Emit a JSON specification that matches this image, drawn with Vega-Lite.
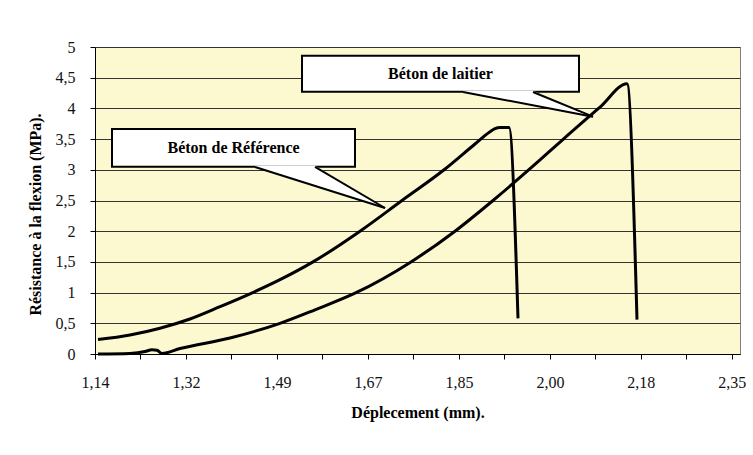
{
  "$schema": "https://vega.github.io/schema/vega-lite/v6.json",
  "width": 645,
  "height": 307,
  "autosize": {"type": "none"},
  "padding": {"left": 95, "top": 47, "right": 13, "bottom": 101},
  "background": "white",
  "config": {
    "view": {"fill": "#FCF8D0", "stroke": "#808080", "strokeWidth": 1},
    "font": "Liberation Serif"
  },
  "datasets": {
    "curves": [
      {"serie": "Béton de Référence", "i": 1, "x": 1.1457, "y": 0.235},
      {"serie": "Béton de Référence", "i": 2, "x": 1.2065, "y": 0.31},
      {"serie": "Béton de Référence", "i": 3, "x": 1.2635, "y": 0.42},
      {"serie": "Béton de Référence", "i": 4, "x": 1.3205, "y": 0.57},
      {"serie": "Béton de Référence", "i": 5, "x": 1.3775, "y": 0.77},
      {"serie": "Béton de Référence", "i": 6, "x": 1.4345, "y": 0.98},
      {"serie": "Béton de Référence", "i": 7, "x": 1.4915, "y": 1.21},
      {"serie": "Béton de Référence", "i": 8, "x": 1.5542, "y": 1.50},
      {"serie": "Béton de Référence", "i": 9, "x": 1.6435, "y": 2.00},
      {"serie": "Béton de Référence", "i": 10, "x": 1.7233, "y": 2.50},
      {"serie": "Béton de Référence", "i": 11, "x": 1.8033, "y": 3.00},
      {"serie": "Béton de Référence", "i": 12, "x": 1.8620, "y": 3.42},
      {"serie": "Béton de Référence", "i": 13, "x": 1.8905, "y": 3.62},
      {"serie": "Béton de Référence", "i": 14, "x": 1.9000, "y": 3.67},
      {"serie": "Béton de Référence", "i": 15, "x": 1.9095, "y": 3.69},
      {"serie": "Béton de Référence", "i": 16, "x": 1.9266, "y": 3.69},
      {"serie": "Béton de Référence", "i": 17, "x": 1.9437, "y": 0.58},
      {"serie": "Béton de laitier", "i": 1, "x": 1.1457, "y": 0.0},
      {"serie": "Béton de laitier", "i": 2, "x": 1.2065, "y": 0.01},
      {"serie": "Béton de laitier", "i": 3, "x": 1.2350, "y": 0.04},
      {"serie": "Béton de laitier", "i": 4, "x": 1.2483, "y": 0.07},
      {"serie": "Béton de laitier", "i": 5, "x": 1.2578, "y": 0.06},
      {"serie": "Béton de laitier", "i": 6, "x": 1.2673, "y": 0.01},
      {"serie": "Béton de laitier", "i": 7, "x": 1.3015, "y": 0.09},
      {"serie": "Béton de laitier", "i": 8, "x": 1.3965, "y": 0.26},
      {"serie": "Béton de laitier", "i": 9, "x": 1.4915, "y": 0.50},
      {"serie": "Béton de laitier", "i": 10, "x": 1.5580, "y": 0.72},
      {"serie": "Béton de laitier", "i": 11, "x": 1.6340, "y": 0.99},
      {"serie": "Béton de laitier", "i": 12, "x": 1.7404, "y": 1.50},
      {"serie": "Béton de laitier", "i": 13, "x": 1.8240, "y": 2.00},
      {"serie": "Béton de laitier", "i": 14, "x": 1.8962, "y": 2.50},
      {"serie": "Béton de laitier", "i": 15, "x": 1.9855, "y": 3.16},
      {"serie": "Béton de laitier", "i": 16, "x": 2.0273, "y": 3.48},
      {"serie": "Béton de laitier", "i": 17, "x": 2.0995, "y": 4.02},
      {"serie": "Béton de laitier", "i": 18, "x": 2.1508, "y": 4.40},
      {"serie": "Béton de laitier", "i": 19, "x": 2.1698, "y": 0.56}
    ],
    "boxes": [
      {"label": "Béton de Référence", "x": 1.1723, "x2": 1.634, "y": 3.664, "y2": 3.050, "tx": 1.4032, "ty": 3.355},
      {"label": "Béton de laitier", "x": 1.5333, "x2": 2.0596, "y": 4.858, "y2": 4.272, "tx": 1.7965, "ty": 4.560}
    ],
    "pointers": [
      {"c": "ref", "x": 1.444, "y": 3.066, "y2": 3.046},
      {"c": "ref", "x": 1.558, "y": 3.066, "y2": 2.738},
      {"c": "ref", "x": 1.691, "y": 2.378, "y2": 2.378},
      {"c": "lait", "x": 1.8392, "y": 4.287, "y2": 4.267},
      {"c": "lait", "x": 1.9722, "y": 4.287, "y2": 4.0505},
      {"c": "lait", "x": 2.0862, "y": 3.865, "y2": 3.865}
    ],
    "edges": [
      {"x": 1.444, "y": 3.046, "x2": 1.691, "y2": 2.378},
      {"x": 1.558, "y": 3.046, "x2": 1.691, "y2": 2.378},
      {"x": 1.8392, "y": 4.267, "x2": 2.0862, "y2": 3.865},
      {"x": 1.9722, "y": 4.267, "x2": 2.0862, "y2": 3.865}
    ]
  },
  "encoding": {
    "x": {
      "field": "x",
      "type": "quantitative",
      "scale": {"domain": [1.14, 2.3655], "nice": false, "zero": false},
      "axis": {
        "values": [1.14, 1.226429, 1.312857, 1.399286, 1.485714, 1.572143, 1.658571, 1.745, 1.831429, 1.917857, 2.004286, 2.090714, 2.177143, 2.263571, 2.35],
        "labelExpr": "['1,14','','1,32','','1,49','','1,67','','1,85','','2,00','','2,18','','2,35'][round((datum.value-1.14)/0.0864286)]",
        "grid": false,
        "domainColor": "black",
        "tickColor": "black",
        "tickSize": 5,
        "labelFont": "Liberation Serif",
        "labelFontSize": 16,
        "labelColor": "#111",
        "labelPadding": 15,
        "labelOverlap": false,
        "labelFlush": false,
        "labelBound": false,
        "title": "Déplecement (mm).",
        "titleFont": "Liberation Serif",
        "titleFontSize": 16,
        "titleFontWeight": "bold",
        "titleColor": "black",
        "titleY": 58,
        "titleBaseline": "middle"
      }
    },
    "y": {
      "field": "y",
      "type": "quantitative",
      "scale": {"domain": [0, 5], "nice": false},
      "axis": {
        "values": [0, 0.5, 1, 1.5, 2, 2.5, 3, 3.5, 4, 4.5, 5],
        "labelExpr": "replace(toString(datum.value), '.', ',')",
        "grid": true,
        "gridColor": "#333",
        "gridWidth": 1,
        "domainColor": "black",
        "tickColor": "black",
        "tickSize": 5,
        "labelFont": "Liberation Serif",
        "labelFontSize": 16,
        "labelColor": "#111",
        "labelPadding": 15,
        "title": "Résistance à la flexion (MPa).",
        "titleFont": "Liberation Serif",
        "titleFontSize": 16,
        "titleFontWeight": "bold",
        "titleColor": "black",
        "titleAngle": -90,
        "titleX": -60,
        "titleY": 167,
        "titleAlign": "center",
        "titleBaseline": "middle"
      }
    }
  },
  "layer": [
    {
      "data": {"name": "curves"},
      "mark": {"type": "line", "color": "black", "strokeWidth": 3, "interpolate": "monotone"},
      "encoding": {
        "detail": {"field": "serie"},
        "order": {"field": "i", "type": "quantitative"}
      }
    },
    {
      "data": {"name": "boxes"},
      "mark": {"type": "rect", "fill": "white", "stroke": "black", "strokeWidth": 2},
      "encoding": {
        "x2": {"field": "x2"},
        "y2": {"field": "y2"}
      }
    },
    {
      "data": {"name": "pointers"},
      "mark": {"type": "area", "color": "white", "opacity": 1},
      "encoding": {
        "detail": {"field": "c"},
        "y2": {"field": "y2"}
      }
    },
    {
      "data": {"name": "edges"},
      "mark": {"type": "rule", "color": "black", "strokeWidth": 2},
      "encoding": {
        "x2": {"field": "x2"},
        "y2": {"field": "y2"}
      }
    },
    {
      "data": {"name": "boxes"},
      "mark": {"type": "text", "font": "Liberation Serif", "fontSize": 16, "fontWeight": "bold", "color": "black", "align": "center", "baseline": "middle"},
      "encoding": {
        "x": {"field": "tx", "type": "quantitative"},
        "y": {"field": "ty", "type": "quantitative"},
        "text": {"field": "label"}
      }
    }
  ]
}
